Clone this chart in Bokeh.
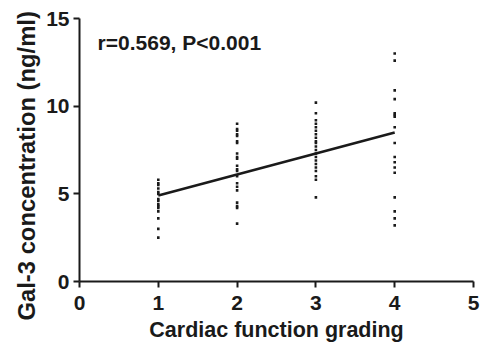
from bokeh.plotting import figure
from bokeh.models import Label, FixedTicker, Title
from bokeh.embed import file_html
from bokeh.resources import INLINE

grade1 = [5.8, 5.6, 5.5, 5.3, 5.1, 5.0, 4.7, 4.6, 4.4, 4.3, 4.2, 4.0, 3.6, 3.0, 2.5]
grade2 = [9.0, 8.7, 8.6, 8.4, 8.3, 8.0, 7.9, 7.3, 7.1, 7.0, 6.6, 6.4, 6.3, 6.0, 5.6, 5.4, 5.2, 4.5, 4.3, 4.2, 3.3]
grade3 = [10.2, 9.6, 9.2, 9.0, 8.8, 8.6, 8.4, 8.2, 8.0, 7.9, 7.7, 7.5, 7.3, 7.1, 6.9, 6.7, 6.5, 6.3, 6.0, 5.8, 4.8]
grade4 = [13.0, 12.6, 10.9, 10.4, 9.6, 9.5, 9.4, 8.8, 7.9, 7.1, 6.8, 6.5, 6.2, 4.8, 4.0, 3.6, 3.2]
fit_x = [1, 4]
fit_y = [4.9, 8.5]
x_ticks = [0, 1, 2, 3, 4, 5]
y_ticks = [0, 5, 10, 15]
annotation = "r=0.569, P<0.001"
x_title = "Cardiac function grading"
y_title = "Gal-3 concentration (ng/ml)"

xs, ys = [], []
for g, vals in zip([1, 2, 3, 4], [grade1, grade2, grade3, grade4]):
    xs += [g] * len(vals)
    ys += vals

FONT = "Liberation Sans"
INK = "#1a1a1a"

p = figure(width=481, height=346, output_backend="svg", toolbar_location=None,
           x_range=(0, 5), y_range=(0, 15),
           min_border_left=79, min_border_right=8, min_border_top=18, min_border_bottom=65)
p.outline_line_color = None
p.grid.visible = False
p.background_fill_color = "white"
p.border_fill_color = "white"

p.scatter(xs, ys, marker="square", size=2.6, color=INK, line_color=None)
p.line(fit_x, fit_y, line_width=2.6, color=INK)

p.xaxis.ticker = FixedTicker(ticks=x_ticks)
p.yaxis.ticker = FixedTicker(ticks=y_ticks)
for ax in (p.xaxis[0], p.yaxis[0]):
    ax.axis_line_width = 2
    ax.axis_line_color = INK
    ax.major_tick_line_width = 2
    ax.major_tick_line_color = INK
    ax.major_tick_out = 6
    ax.major_tick_in = 0
    ax.minor_tick_line_color = None
    ax.major_label_text_font = FONT
    ax.major_label_text_font_style = "bold"
    ax.major_label_text_font_size = "21px"
    ax.major_label_text_color = INK
    ax.axis_label_text_font = FONT
    ax.axis_label_text_font_style = "bold"
    ax.axis_label_text_color = INK
p.xaxis.axis_label = x_title
p.xaxis.axis_label_text_font_size = "21.5px"
p.xaxis.major_label_standoff = 8
p.yaxis.major_label_standoff = 4
p.xaxis.axis_label_standoff = 5

ytitle = Title(text=y_title, align="left", offset=-39, standoff=7,
               text_font=FONT, text_font_style="bold", text_font_size="23.8px",
               text_color=INK)
p.add_layout(ytitle, "left")

p.add_layout(Label(x=0.23, y=13.0, text=annotation, text_font=FONT,
                   text_font_style="bold", text_font_size="21px", text_color=INK))

open("out.html", "w").write(file_html(p, INLINE))
